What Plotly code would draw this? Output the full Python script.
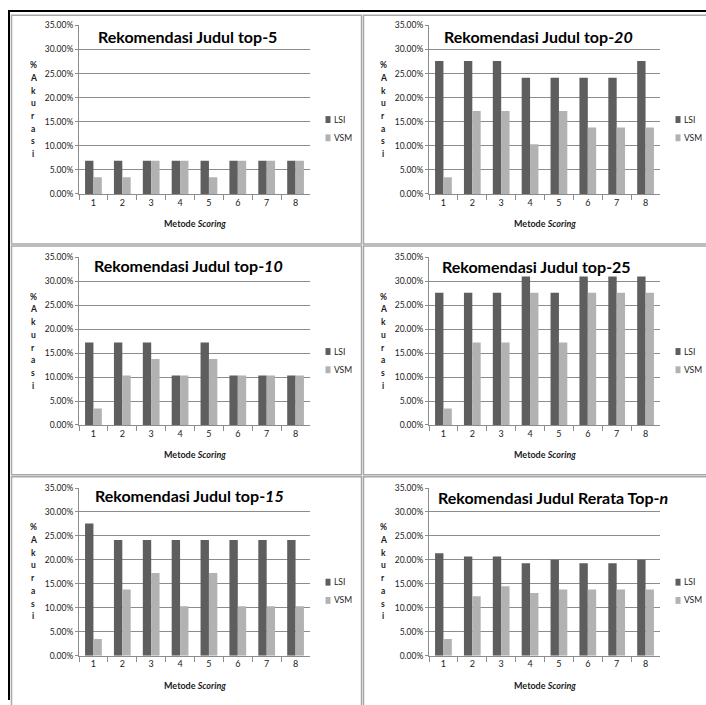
import plotly.graph_objects as go

# Metode scoring 1..8
categories = ["1", "2", "3", "4", "5", "6", "7", "8"]

# Akurasi (%) per top-n, LSI vs VSM
lsi_top5 = [6.90, 6.90, 6.90, 6.90, 6.90, 6.90, 6.90, 6.90]
vsm_top5 = [3.45, 3.45, 6.90, 6.90, 3.45, 6.90, 6.90, 6.90]

lsi_top10 = [17.24, 17.24, 17.24, 10.34, 17.24, 10.34, 10.34, 10.34]
vsm_top10 = [3.45, 10.34, 13.79, 10.34, 13.79, 10.34, 10.34, 10.34]

lsi_top15 = [27.59, 24.14, 24.14, 24.14, 24.14, 24.14, 24.14, 24.14]
vsm_top15 = [3.45, 13.79, 17.24, 10.34, 17.24, 10.34, 10.34, 10.34]

lsi_top20 = [27.59, 27.59, 27.59, 24.14, 24.14, 24.14, 24.14, 27.59]
vsm_top20 = [3.45, 17.24, 17.24, 10.34, 17.24, 13.79, 13.79, 13.79]

lsi_top25 = [27.59, 27.59, 27.59, 31.03, 27.59, 31.03, 31.03, 31.03]
vsm_top25 = [3.45, 17.24, 17.24, 27.59, 17.24, 27.59, 27.59, 27.59]

lsi_rerata = [21.38, 20.69, 20.69, 19.31, 20.00, 19.31, 19.31, 20.00]
vsm_rerata = [3.45, 12.41, 14.48, 13.10, 13.79, 13.79, 13.79, 13.79]

series_names = ["LSI", "VSM"]
y_letters = ["%", "A", "k", "u", "r", "a", "s", "i"]

W, H = 706, 705
FONT = "Lato"
LSI_COLOR = "#5e5e5e"
VSM_COLOR = "#b2b2b2"
GRID = "#8c8c8c"
TEXT = "#1a1a1a"

# (title, lsi, vsm, column, row)
panels = [
    ("Rekomendasi Judul top-5", lsi_top5, vsm_top5, 0, 0),
    ("Rekomendasi Judul top-<i>20</i>", lsi_top20, vsm_top20, 1, 0),
    ("Rekomendasi Judul top-<i>10</i>", lsi_top10, vsm_top10, 0, 1),
    ("Rekomendasi Judul top-25", lsi_top25, vsm_top25, 1, 1),
    ("Rekomendasi Judul top-<i>15</i>", lsi_top15, vsm_top15, 0, 2),
    ("Rekomendasi Judul Rerata Top-<i>n</i>", lsi_rerata, vsm_rerata, 1, 2),
]

col_px = [(79, 310), (429, 660)]
row_px = [(20.7, 191.7), (256.0, 426.0), (490.0, 660.0)]
title_px = [(187, 32), (538, 32), (188, 264), (536, 265), (190, 498), (553, 500)]


def px(x):
    return x / W


def py(y):
    return 1 - y / H


fig = go.Figure()
annotations = []
shapes = []

# frame: black outer edges and grey panel boxes
shapes.append(dict(type="line", xref="paper", yref="paper", x0=px(8), x1=px(706),
                   y0=py(6), y1=py(6), line=dict(color="black", width=2)))
shapes.append(dict(type="line", xref="paper", yref="paper", x0=px(9), x1=px(9),
                   y0=py(5), y1=py(705), line=dict(color="black", width=2)))
panel_cols = [(11.5, 361.5), (363.5, 712)]
panel_rows = [(10.5, 242.5), (244.5, 476.5), (478.5, 712)]
for (x0, x1) in panel_cols:
    for (y0, y1) in panel_rows:
        shapes.append(dict(type="rect", xref="paper", yref="paper",
                           x0=px(x0), x1=px(x1), y0=py(y1), y1=py(y0),
                           line=dict(color="#a8a8a8", width=1.5)))

layout_axes = {}
for i, (title, lsi, vsm, c, r) in enumerate(panels, start=1):
    xa = "x" if i == 1 else f"x{i}"
    ya = "y" if i == 1 else f"y{i}"
    for name, vals, color in ((series_names[0], lsi, LSI_COLOR), (series_names[1], vsm, VSM_COLOR)):
        fig.add_trace(go.Bar(x=categories, y=vals, name=name, marker_color=color,
                             marker_line_width=0, xaxis=xa, yaxis=ya, showlegend=False))
    x0p, x1p = col_px[c]
    y0p, y1p = row_px[r]
    layout_axes["xaxis" if i == 1 else f"xaxis{i}"] = dict(
        domain=[px(x0p), px(x1p)], anchor=ya, type="category",
        showline=True, linecolor=GRID, linewidth=1, ticks="outside", tickson="boundaries",
        ticklen=5, tickcolor=GRID, showgrid=False, fixedrange=True,
        tickfont=dict(family=FONT, size=9, color=TEXT))
    layout_axes["yaxis" if i == 1 else f"yaxis{i}"] = dict(
        domain=[py(y1p), py(y0p)], anchor=xa, range=[0, 35], dtick=5,
        tickformat=".2f", ticksuffix="%", showline=True, linecolor=GRID, linewidth=1,
        ticks="outside", ticklen=3, tickcolor=GRID, showgrid=True, gridcolor=GRID,
        gridwidth=1, zeroline=False, fixedrange=True,
        tickfont=dict(family=FONT, size=8.5, color=TEXT))

    # chart title
    tx, ty = title_px[i - 1]
    annotations.append(dict(text=f"<b>{title}</b>", xref="paper", yref="paper",
                            x=px(tx), y=py(ty), showarrow=False, xanchor="center",
                            yanchor="middle", font=dict(family=FONT, size=16, color="black")))
    # x axis title
    annotations.append(dict(text="<b>Metode <i>Scoring</i></b>", xref="paper", yref="paper",
                            x=px((x0p + x1p) / 2), y=py(y1p + 30), showarrow=False,
                            xanchor="center", yanchor="middle",
                            font=dict(family=FONT, size=9, color=TEXT)))
    # stacked y axis title
    mid = (y0p + y1p) / 2
    step = 12.9
    for k, ch in enumerate(y_letters):
        yy = mid + (k - (len(y_letters) - 1) / 2) * step
        annotations.append(dict(text=f"<b>{ch}</b>", xref="paper", yref="paper",
                                x=px(x0p - 46), y=py(yy), showarrow=False,
                                xanchor="center", yanchor="middle",
                                font=dict(family=FONT, size=8.5, color=TEXT)))
    # legend
    lx = x1p + 15.5
    for k, (name, color) in enumerate(((series_names[0], LSI_COLOR), (series_names[1], VSM_COLOR))):
        cy = y0p + 95.5 + k * 18.5
        shapes.append(dict(type="rect", xref="paper", yref="paper",
                           x0=px(lx), x1=px(lx + 5), y0=py(cy + 3.5), y1=py(cy - 3.5),
                           fillcolor=color, line=dict(width=0)))
        annotations.append(dict(text=name, xref="paper", yref="paper",
                                x=px(lx + 6.5), y=py(cy), showarrow=False,
                                xanchor="left", yanchor="middle",
                                font=dict(family=FONT, size=8.5, color=TEXT)))

fig.update_layout(
    width=W, height=H, margin=dict(l=0, r=0, t=0, b=0, pad=0),
    paper_bgcolor="white", plot_bgcolor="white",
    barmode="group", bargap=0.42, bargroupgap=0,
    showlegend=False, annotations=annotations, shapes=shapes,
    **layout_axes,
)

fig.write_html("out.html")
